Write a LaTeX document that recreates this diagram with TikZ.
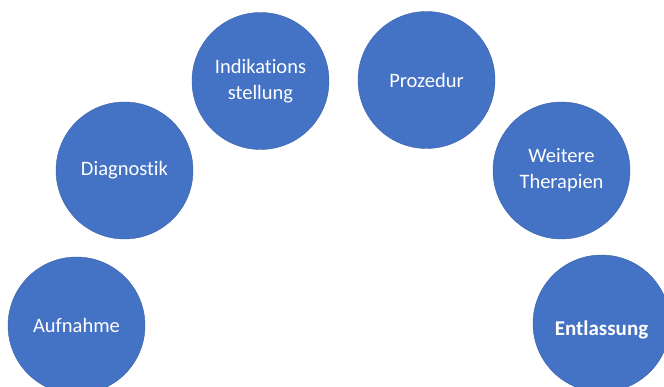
\documentclass[tikz,border=0pt]{standalone}
\usepackage{fontspec}
\setmainfont{Carlito}[Ligatures={NoCommon}]
\definecolor{stepblue}{HTML}{4472C4}
\begin{document}
\begin{tikzpicture}[x=1pt,y=-1pt,
  phase/.style={circle, fill=stepblue, draw=stepblue!85!black, line width=0.4pt, minimum size=137pt, inner sep=0pt,
    text=white, align=center, font=\fontsize{20.5}{26}\selectfont}]
\useasboundingbox (0,0) rectangle (664,387);
\clip (0,0) rectangle (664,387);
\node[phase] (aufnahme) at (76.5,325.5) {Aufnahme};
\node[phase] (diagnostik) at (124.5,170.5) {Diagnostik};
\node[phase] (indikation) at (260.5,81) {Indikations\\stellung};
\node[phase] (prozedur) at (426.5,80) {Prozedur};
\node[phase] (weitere) at (561.5,170.5) {Weitere\\Therapien};
\node[phase, font=\bfseries\fontsize{21}{26}\selectfont, text height=29pt, text depth=4.5pt] (entlassung) at (601.5,323.5) {Entlassung};
\end{tikzpicture}
\end{document}
